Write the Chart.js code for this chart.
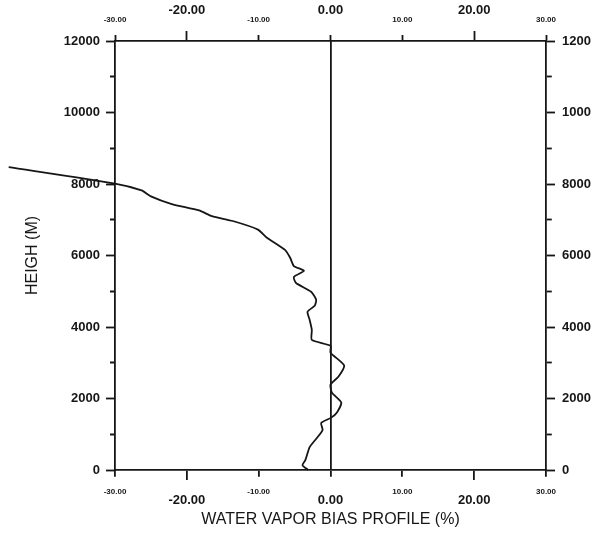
<!DOCTYPE html>
<html>
<head>
<meta charset="utf-8">
<script src="https://cdn.jsdelivr.net/npm/chart.js@4/dist/chart.umd.min.js"></script>
<style>
  html, body { margin: 0; padding: 0; background: #ffffff; }
  #wrap { width: 609px; height: 533px; position: relative; }
</style>
</head>
<body>
<div id="wrap"><canvas id="c"></canvas></div>
<script>
// ---- data ----
const biasValues = [
  -44.8, -30.0, -26.3, -25.0, -22.1, -18.3, -16.5, -13.6, -10.1, -8.9,
  -6.3, -5.6, -5.1, -3.7, -5.1, -4.8, -2.7, -2.0, -2.2, -3.2,
  -2.9, -2.6, -2.6, 0.0, 0.0, 1.9, 1.1, 0.0, 0.2, 1.5,
  0.9, 0.1, -1.3, -1.1, -1.9, -2.9, -3.5, -3.9, -3.1
];
const heightValues = [
  8470, 8010, 7820, 7655, 7440, 7260, 7100, 6965, 6725, 6505,
  6150, 5930, 5705, 5570, 5400, 5230, 4985, 4765, 4595, 4425,
  4200, 3920, 3640, 3475, 3280, 2925, 2610, 2390, 2165, 1890,
  1610, 1465, 1315, 1120, 895, 640, 275, 135, 0
];
const xTickLabels = ['-30.00', '-20.00', '-10.00', '0.00', '10.00', '20.00', '30.00'];
const leftTickLabels = ['0', '2000', '4000', '6000', '8000', '10000', '12000'];
const rightTickLabels = ['0', '2000', '4000', '6000', '8000', '1000', '1200'];
const xTitle = 'WATER VAPOR BIAS PROFILE (%)';
const yTitle = 'HEIGH (M)';

const points = biasValues.map((v, i) => ({ x: v, y: heightValues[i] }));

const INK = '#161616';
const FAMILY = '"Liberation Sans", Arial, Helvetica, sans-serif';
const LW = 1.8;

function isMajorX(v) { return Math.abs(Math.abs(v) - 20) < 1e-6; }
function largeLabel(v) { const r = Math.round(v); return r === -20 || r === 0 || r === 20; }
function xFont(ctx) {
  const v = ctx.tick ? ctx.tick.value : 0;
  return largeLabel(v)
    ? { family: FAMILY, size: 13, weight: 'bold', lineHeight: 2.1 }
    : { family: FAMILY, size: 8, weight: 'bold', lineHeight: 1.1 };
}
function xLabel(v) { return xTickLabels[Math.round((v + 30) / 10)]; }

const commonX = {
  type: 'linear', min: -30, max: 30,
  ticks: { stepSize: 10, color: INK, font: xFont, padding: 7, maxRotation: 0, autoSkip: false, callback: xLabel },
  border: { display: true, color: INK, width: LW }
};

new Chart(document.getElementById('c'), {
  type: 'scatter',
  data: {
    datasets: [{
      data: points,
      showLine: true,
      borderColor: INK,
      borderWidth: LW,
      pointRadius: 0,
      tension: 0.2,
      clip: false,
      xAxisID: 'x',
      yAxisID: 'y'
    }]
  },
  options: {
    responsive: true,
    maintainAspectRatio: false,
    animation: false,
    layout: { padding: 0 },
    plugins: { legend: { display: false }, tooltip: { enabled: false } },
    scales: {
      x: Object.assign({}, commonX, {
        position: 'bottom',
        grid: {
          drawOnChartArea: true,
          color: (c) => (c.tick && Math.abs(c.tick.value) < 1e-6 ? INK : 'rgba(0,0,0,0)'),
          lineWidth: LW,
          tickColor: INK, tickWidth: LW, tickLength: 10,
          tickBorderDash: (c) => (c.tick && isMajorX(c.tick.value) ? [] : [6, 100])
        },
        title: { display: true, text: xTitle, color: INK, font: { family: FAMILY, size: 16, lineHeight: 1.2 }, padding: { top: 0, bottom: 4 } },
        afterFit: (s) => { s.height = 63; }
      }),
      x2: Object.assign({}, commonX, {
        position: 'top',
        grid: {
          drawOnChartArea: false,
          tickColor: INK, tickWidth: LW, tickLength: 10,
          tickBorderDash: (c) => (c.tick && isMajorX(c.tick.value) ? [] : [0, 4, 6, 100])
        },
        afterFit: (s) => { s.height = 41; }
      }),
      y: {
        type: 'linear', position: 'left', min: 0, max: 12000,
        ticks: {
          stepSize: 1000, color: INK, padding: 6, autoSkip: false,
          font: { family: FAMILY, size: 13, weight: 'bold' },
          callback: (v) => (v % 2000 === 0 ? leftTickLabels[v / 2000] : '')
        },
        grid: {
          drawOnChartArea: false,
          tickColor: INK, tickWidth: LW, tickLength: 9,
          tickBorderDash: (c) => (c.tick && c.tick.value % 2000 === 0 ? [] : [0, 4, 6, 100])
        },
        border: { display: true, color: INK, width: LW },
        title: { display: true, text: yTitle, color: INK, font: { family: FAMILY, size: 16, lineHeight: 1.2 }, padding: { top: 23, bottom: 0 } },
        afterFit: (s) => { s.width = 115; }
      },
      y2: {
        type: 'linear', position: 'right', min: 0, max: 12000,
        ticks: {
          stepSize: 1000, color: INK, padding: 7, autoSkip: false,
          font: { family: FAMILY, size: 13, weight: 'bold' },
          callback: (v) => (v % 2000 === 0 ? rightTickLabels[v / 2000] : '')
        },
        grid: {
          drawOnChartArea: false,
          tickColor: INK, tickWidth: LW, tickLength: 9,
          tickBorderDash: (c) => (c.tick && c.tick.value % 2000 === 0 ? [] : [5, 100])
        },
        border: { display: true, color: INK, width: LW },
        afterFit: (s) => { s.width = 63; }
      }
    }
  }
});
</script>
</body>
</html>
